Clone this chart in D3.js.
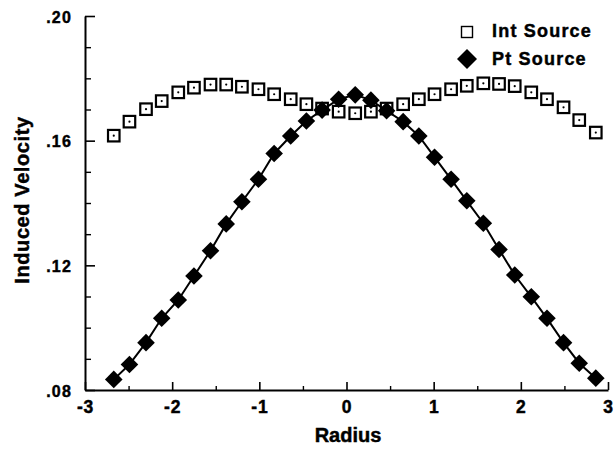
<!DOCTYPE html>
<html>
<head>
<meta charset="utf-8">
<script src="https://cdn.jsdelivr.net/npm/d3@7"></script>
<style>
  html, body { margin: 0; padding: 0; background: #fff; }
  svg { display: block; }
  text { font-family: "Liberation Sans", Arial, Helvetica, sans-serif; font-weight: bold; fill: #000; stroke: #000; stroke-width: 0.45px; }
</style>
</head>
<body>
<svg id="chart" width="615" height="450"></svg>
<script>
// ---- data ----
const radius = [-2.67, -2.49, -2.30, -2.12, -1.93, -1.75, -1.56, -1.38, -1.20, -1.01,
                -0.83, -0.64, -0.46, -0.28, -0.09, 0.10, 0.28, 0.46, 0.65, 0.83,
                1.01, 1.20, 1.38, 1.57, 1.75, 1.93, 2.12, 2.30, 2.49, 2.67, 2.86];
const intSource = [0.1616, 0.1661, 0.1701, 0.1727, 0.1755, 0.1770, 0.1780, 0.1780, 0.1773, 0.1765,
                   0.1749, 0.1733, 0.1717, 0.1703, 0.1693, 0.1688, 0.1693, 0.1703, 0.1717, 0.1733,
                   0.1749, 0.1765, 0.1776, 0.1784, 0.1782, 0.1775, 0.1755, 0.1733, 0.1707, 0.1666, 0.1626];
const ptSource = [0.0834, 0.0882, 0.0952, 0.1030, 0.1089, 0.1166, 0.1247, 0.1333, 0.1404, 0.1476,
                  0.1559, 0.1615, 0.1663, 0.1698, 0.1733, 0.1747, 0.1730, 0.1696, 0.1661, 0.1615,
                  0.1547, 0.1476, 0.1407, 0.1335, 0.1251, 0.1169, 0.1099, 0.1030, 0.0952, 0.0886, 0.0838];
const xMajor = [-3, -2, -1, 0, 1, 2, 3];
const xMinor = [-2.5, -1.5, -0.5, 0.5, 1.5, 2.5];
const yMajor = [0.08, 0.12, 0.16, 0.20];
const yMinor = [0.09, 0.10, 0.11, 0.13, 0.14, 0.15, 0.17, 0.18, 0.19];
const seriesNames = ["Int Source", "Pt Source"];
const xTitle = "Radius";
const yTitle = "Induced Velocity";

// ---- layout ----
const svg = d3.select("#chart");
const x = d3.scaleLinear().domain([-3, 3]).range([85, 608]);
const y = d3.scaleLinear().domain([0.08, 0.20]).range([390, 16]);

const yFmt = d => d3.format(".2f")(d).replace(/^0/, "");
const xFmt = d => String(d);

const styleText = sel => sel.attr("font-family", "Liberation Sans, Arial, sans-serif")
  .attr("font-weight", "bold").attr("fill", "#000").attr("stroke", "#000").attr("stroke-width", 0.45);

// y axis
const gy = svg.append("g").attr("transform", `translate(${x(-3)},0)`)
  .call(d3.axisLeft(y).tickValues(yMajor).tickSize(-10).tickSizeOuter(0).tickPadding(13).tickFormat(yFmt));
gy.select(".domain").attr("stroke", "#000").attr("stroke-width", 2);
gy.selectAll(".tick line").attr("stroke", "#000").attr("stroke-width", 1.6);
gy.selectAll(".tick text").attr("font-size", 16).attr("letter-spacing", "1.2px").attr("dy", "0.38em").call(styleText);
const gyMinor = svg.append("g").attr("transform", `translate(${x(-3)},0)`)
  .call(d3.axisLeft(y).tickValues(yMinor).tickSize(-6).tickSizeOuter(0).tickFormat(""));
gyMinor.select(".domain").remove();
gyMinor.selectAll(".tick line").attr("stroke", "#000").attr("stroke-width", 1.4);

// x axis
const gx = svg.append("g").attr("transform", `translate(0,${y(0.08)})`)
  .call(d3.axisBottom(x).tickValues(xMajor).tickSize(-8).tickSizeOuter(0).tickPadding(11).tickFormat(xFmt));
gx.select(".domain").attr("stroke", "#000").attr("stroke-width", 2);
gx.selectAll(".tick line").attr("stroke", "#000").attr("stroke-width", 1.6);
gx.selectAll(".tick text").attr("font-size", 17.5).attr("letter-spacing", "0.8px").call(styleText);
const gxMinor = svg.append("g").attr("transform", `translate(0,${y(0.08)})`)
  .call(d3.axisBottom(x).tickValues(xMinor).tickSize(-4).tickSizeOuter(0).tickFormat(""));
gxMinor.select(".domain").remove();
gxMinor.selectAll(".tick line").attr("stroke", "#000").attr("stroke-width", 1.4);

// axis titles
svg.append("text").attr("x", 348).attr("y", 442).attr("text-anchor", "middle")
  .attr("font-size", 20).text(xTitle);
svg.append("text").attr("transform", "translate(29,200) rotate(-90)").attr("text-anchor", "middle")
  .attr("font-size", 20).attr("letter-spacing", "0.6px").text(yTitle);

// Int Source squares
const sq = 11.5;
const gInt = svg.append("g");
gInt.selectAll("rect").data(radius).join("rect")
  .attr("x", (d) => x(d) - sq / 2)
  .attr("y", (d, i) => y(intSource[i]) - sq / 2)
  .attr("width", sq).attr("height", sq)
  .attr("fill", "#fff").attr("stroke", "#000").attr("stroke-width", 2.2);
gInt.selectAll("circle").data(radius).join("circle")
  .attr("cx", (d) => x(d)).attr("cy", (d, i) => y(intSource[i])).attr("r", 1.1).attr("fill", "#000");

// Pt Source line + diamonds
const line = d3.line().x((d) => x(d[0])).y((d) => y(d[1]));
const ptPts = radius.map((r, i) => [r, ptSource[i]]);
svg.append("path").datum(ptPts).attr("d", line).attr("fill", "none")
  .attr("stroke", "#000").attr("stroke-width", 2);
const diamond = (cx, cy, h) => `M${cx},${cy - h}L${cx + h},${cy}L${cx},${cy + h}L${cx - h},${cy}Z`;
svg.append("g").selectAll("path").data(ptPts).join("path")
  .attr("d", (d) => diamond(x(d[0]), y(d[1]), 8.8)).attr("fill", "#000");

// legend
const lg = svg.append("g");
lg.append("rect").attr("x", 461.5).attr("y", 26.5).attr("width", 11).attr("height", 11)
  .attr("fill", "#fff").attr("stroke", "#000").attr("stroke-width", 1.4);
lg.append("path").attr("d", diamond(467, 59, 10)).attr("fill", "#000");
lg.append("text").attr("x", 492).attr("y", 37).attr("font-size", 18).attr("letter-spacing", "1.2px").text(seriesNames[0]);
lg.append("text").attr("x", 492).attr("y", 65).attr("font-size", 18).attr("letter-spacing", "1.2px").text(seriesNames[1]);
</script>
</body>
</html>
